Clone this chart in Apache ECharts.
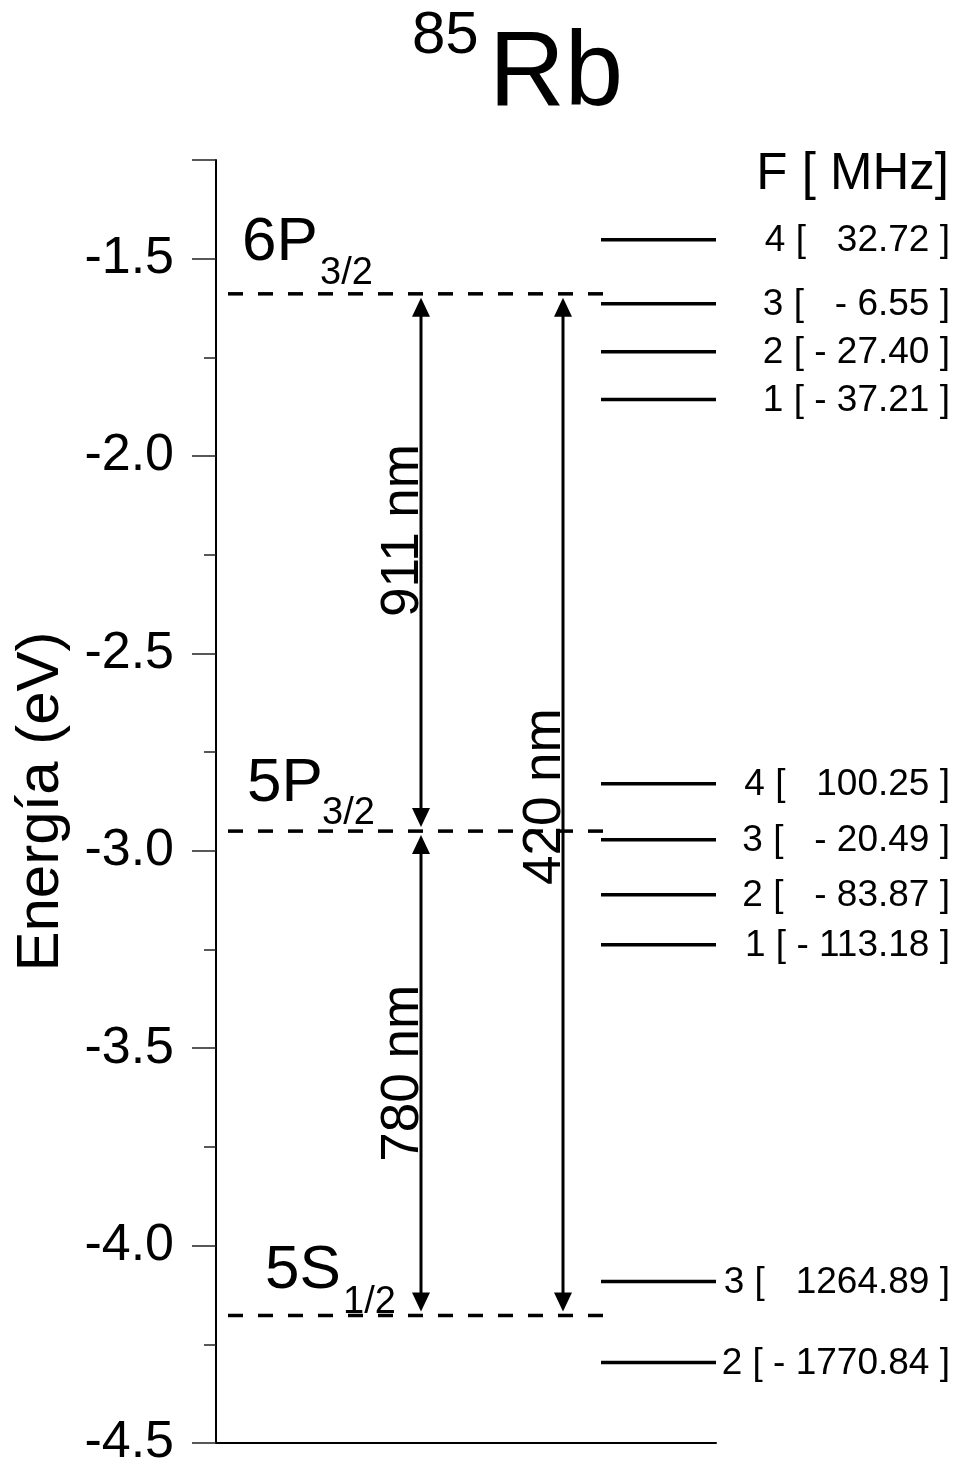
<!DOCTYPE html>
<html>
<head>
<meta charset="utf-8">
<script src="https://cdn.jsdelivr.net/npm/echarts@6/dist/echarts.min.js"></script>
<style>
  html, body { margin: 0; padding: 0; background: #fff; }
  #chart { width: 957px; height: 1464px; }
</style>
</head>
<body>
<div id="chart"></div>
<script>
// ---------------- data ----------------
const yTickValues = [-4.5, -4.0, -3.5, -3.0, -2.5, -2.0, -1.5];
const axisName = 'Energía (eV)';
const titleMass = '85';
const titleElement = 'Rb';
const hfsHeader = 'F [ MHz]';

const levelNames = ['6P', '5P', '5S'];
const levelSubs = ['3/2', '3/2', '1/2'];
const levelEnergy = [-1.589, -2.950, -4.177];

const hfsF = [4, 3, 2, 1, 4, 3, 2, 1, 3, 2];
const hfsShift = ['  32.72', '  - 6.55', '- 27.40', '- 37.21',
                  '  100.25', '  - 20.49', '  - 83.87', '- 113.18',
                  '  1264.89', '- 1770.84'];
const hfsDisplayEnergy = [-1.452, -1.614, -1.736, -1.857,
                          -2.830, -2.972, -3.111, -3.238,
                          -4.091, -4.296];

const transLabels = ['911 nm', '780 nm', '420 nm'];
const transFrom = [1, 2, 2];   // index into levelEnergy
const transTo = [0, 1, 0];

// ---------------- layout / style ----------------
const FONT = '"Liberation Sans", Arial, Helvetica, sans-serif';
const LEVEL_X = [12, 388];          // x-axis units (0..500)
const HFS_X = [385, 500];
const HFS_LABEL_X = 734;
const ARROW_X = [205, 205, 347];
const ARROW_LABEL_DX = -18;         // px
const ARROW_LABEL_DY = [-32, 0, -8];// px from midpoint
const NAME_X = [26, 31, 49];
const NAME_DY = [-50.5, -47.5, -44.5];
const SUB_X = [104, 106, 127];
const SUB_DY = [-20, -18, -13];

const chart = echarts.init(document.getElementById('chart'));

const option = {
  animation: false,
  backgroundColor: '#fff',
  grid: { left: 216, right: 241, top: 160, bottom: 21, containLabel: false, outerBoundsMode: 'none' },
  xAxis: {
    type: 'value', min: 0, max: 500,
    axisLine: { show: true, onZero: false, lineStyle: { color: '#000', width: 2 } },
    axisTick: { show: false }, axisLabel: { show: false }, splitLine: { show: false }
  },
  yAxis: [
    {
      type: 'value', min: yTickValues[0], max: -1.25, interval: 0.5,
      position: 'left',
      name: axisName, nameLocation: 'middle', nameGap: 145,
      nameTextStyle: { fontFamily: FONT, fontSize: 60, color: '#000' },
      axisLine: { show: true, lineStyle: { color: '#000', width: 2 } },
      axisTick: { show: true, length: 24, lineStyle: { color: '#222', width: 1.5 } },
      axisLabel: {
        show: true, margin: 42, color: '#000', fontFamily: FONT, fontSize: 52,
        formatter: function (v) {
          return yTickValues.some(t => Math.abs(t - v) < 1e-6) ? v.toFixed(1) : '';
        }
      },
      splitLine: { show: false }
    },
    {
      type: 'value', min: yTickValues[0], max: -1.25, interval: 0.25,
      position: 'left', offset: 0,
      axisLine: { show: false },
      axisTick: { show: true, length: 12, lineStyle: { color: '#222', width: 1.5 } },
      axisLabel: { show: false },
      splitLine: { show: false }
    }
  ],
  graphic: [
    { type: 'text', x: 412, y: 36, style: { text: titleMass, font: '60px ' + FONT, fill: '#000', align: 'left', verticalAlign: 'middle' } },
    { type: 'text', x: 489, y: 76, style: { text: titleElement, font: '105px ' + FONT, fill: '#000', align: 'left', verticalAlign: 'middle' } },
    { type: 'text', x: 949, y: 175, style: { text: hfsHeader, font: '51px ' + FONT, fill: '#000', align: 'right', verticalAlign: 'middle' } }
  ],
  series: [
    {
      type: 'custom', name: 'levels', clip: false, yAxisIndex: 0,
      data: levelEnergy.map((e, i) => [i, e]),
      renderItem: function (params, api) {
        const i = api.value(0);
        const y = api.value(1);
        const p0 = api.coord([LEVEL_X[0], y]);
        const p1 = api.coord([LEVEL_X[1], y]);
        const pn = api.coord([NAME_X[i], y]);
        const ps = api.coord([SUB_X[i], y]);
        return {
          type: 'group', children: [
            { type: 'line', shape: { x1: p0[0], y1: p0[1], x2: p1[0], y2: p1[1] },
              style: { stroke: '#000', lineWidth: 3.5, lineDash: [15, 15] } },
            { type: 'text', x: pn[0], y: pn[1] + NAME_DY[i],
              style: { text: levelNames[i], font: '62px ' + FONT, fill: '#000', align: 'left', verticalAlign: 'middle' } },
            { type: 'text', x: ps[0], y: ps[1] + SUB_DY[i],
              style: { text: levelSubs[i], font: '38px ' + FONT, fill: '#000', align: 'left', verticalAlign: 'middle' } }
          ]
        };
      }
    },
    {
      type: 'custom', name: 'hfs', clip: false, yAxisIndex: 0,
      data: hfsDisplayEnergy.map((e, i) => [i, e]),
      renderItem: function (params, api) {
        const i = api.value(0);
        const y = api.value(1);
        const p0 = api.coord([HFS_X[0], y]);
        const p1 = api.coord([HFS_X[1], y]);
        const pl = api.coord([HFS_LABEL_X, y]);
        return {
          type: 'group', children: [
            { type: 'line', shape: { x1: p0[0], y1: p0[1], x2: p1[0], y2: p1[1] },
              style: { stroke: '#000', lineWidth: 3.5 } },
            { type: 'text', x: pl[0], y: pl[1] + 1,
              style: { text: hfsF[i] + ' [ ' + hfsShift[i] + ' ]', font: '37px ' + FONT, fill: '#000', align: 'right', verticalAlign: 'middle' } }
          ]
        };
      }
    },
    {
      type: 'custom', name: 'transitions', clip: false, yAxisIndex: 0,
      data: transLabels.map((t, i) => [i, levelEnergy[transFrom[i]], levelEnergy[transTo[i]]]),
      renderItem: function (params, api) {
        const i = api.value(0);
        const pa = api.coord([ARROW_X[i], api.value(1)]);
        const pb = api.coord([ARROW_X[i], api.value(2)]);
        const x = pa[0];
        const gap = 4, hl = 19, hw = 9;
        const top = Math.min(pa[1], pb[1]) + gap;
        const bot = Math.max(pa[1], pb[1]) - gap;
        const mid = (top + bot) / 2;
        return {
          type: 'group', children: [
            { type: 'line', shape: { x1: x, y1: top + hl - 2, x2: x, y2: bot - hl + 2 },
              style: { stroke: '#000', lineWidth: 3 } },
            { type: 'polygon', shape: { points: [[x, top], [x - hw, top + hl], [x + hw, top + hl]] },
              style: { fill: '#000' } },
            { type: 'polygon', shape: { points: [[x, bot], [x - hw, bot - hl], [x + hw, bot - hl]] },
              style: { fill: '#000' } },
            { type: 'text', x: x + ARROW_LABEL_DX, y: mid + ARROW_LABEL_DY[i], rotation: Math.PI / 2,
              style: { text: transLabels[i], font: '53px ' + FONT, fill: '#000', align: 'center', verticalAlign: 'middle' } }
          ]
        };
      }
    }
  ]
};

chart.setOption(option);
</script>
</body>
</html>
